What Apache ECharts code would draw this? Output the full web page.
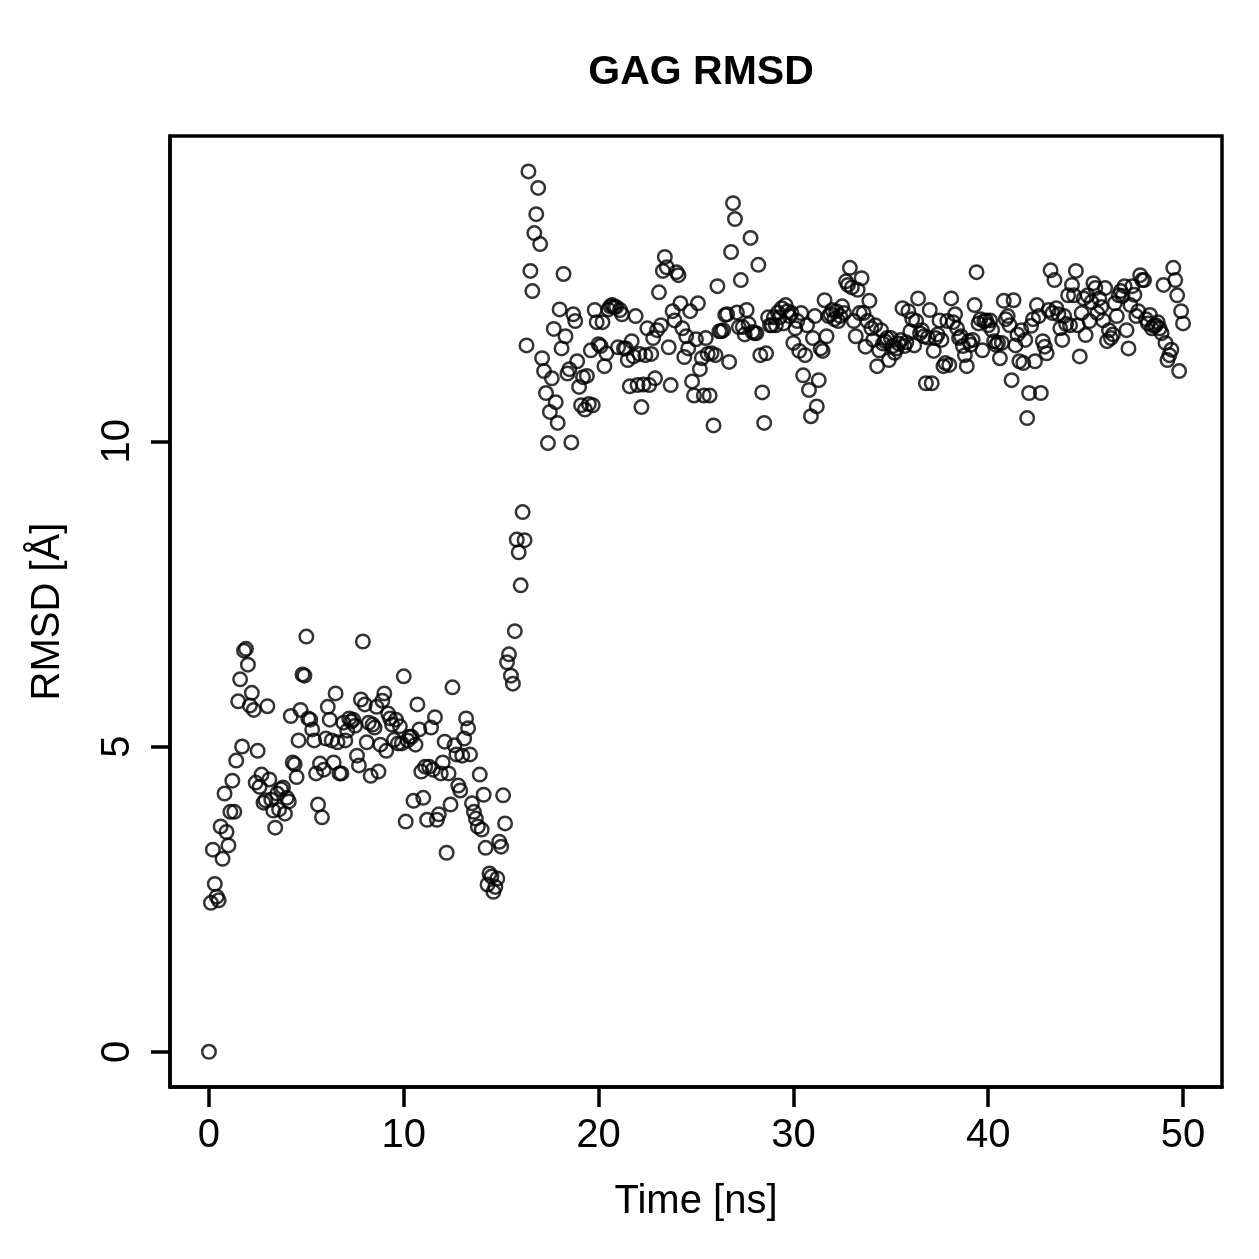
<!DOCTYPE html>
<html>
<head>
<meta charset="utf-8">
<title>GAG RMSD</title>
<script src="https://cdn.jsdelivr.net/npm/echarts@6/dist/echarts.min.js"></script>
<style>
  html, body { margin: 0; padding: 0; background: #fff; }
  #chart { width: 1259px; height: 1259px; }
</style>
</head>
<body>
<div id="chart"></div>
<script>
// one frame every 0.1 ns, starting at 0 ns
const timeStep = 0.1;

// RMSD [Å], 0.0 - 16.2 ns
const rmsdEarly = [
  0.00, 2.44, 3.31, 2.75, 2.54, 2.48, 3.69, 3.16, 4.23, 3.60,
  3.38, 3.93, 4.44, 3.93, 4.77, 5.74, 6.10, 5.00, 6.57, 6.60,
  6.34, 5.67, 5.88, 5.60, 4.41, 4.93, 4.34, 4.54, 4.08, 4.12, 5.66,
  4.46, 4.13, 3.95, 3.67, 4.23, 3.97, 4.30, 4.33, 3.90, 4.16, 4.10,
  5.50, 4.74, 4.71, 4.50, 5.10, 5.60, 6.18, 6.16, 6.80, 5.46, 5.44,
  5.28, 5.10, 4.56, 4.05, 4.72, 3.84, 4.62, 5.13, 5.65, 5.44,
  5.10, 4.74, 5.87, 5.07, 4.56, 4.56, 5.39, 5.10, 5.26, 5.46, 5.41,
  5.44, 5.34, 4.85, 4.69, 5.77, 6.72, 5.69, 5.07, 5.39, 4.52,
  5.36, 5.31, 5.65, 4.59, 5.03, 5.75, 5.87, 4.93, 5.54, 5.46, 5.36,
  5.11, 5.44, 5.05, 5.33, 5.05, 6.15, 3.77, 5.10, 5.16, 5.16,
  4.11, 5.03, 5.69, 5.28, 4.59, 4.16, 4.67, 3.80, 4.67, 5.31,
  4.62, 5.48, 3.80, 3.89, 4.56, 4.74, 5.08, 3.26, 4.56, 4.05,
  5.97, 5.02, 4.87, 4.36, 4.28, 4.85, 5.13, 5.46, 5.30, 4.87,
  4.07, 3.93, 3.82, 3.69, 4.54, 3.64, 4.21, 3.34, 2.74, 2.92, 2.87,
  2.62, 2.70, 2.84, 3.44, 3.36, 4.20, 3.74, 6.38, 6.51, 6.16,
  6.03, 6.89, 8.39, 8.18, 7.64, 8.84, 8.38
];

// 16.3 - 29.3 ns
const rmsdJump = [
  11.57, 14.42, 12.79, 12.46, 13.41, 13.72, 14.15, 13.23, 11.36, 11.15,
  10.79, 9.97, 10.48, 11.03, 11.84, 10.64, 10.30, 12.16, 11.52, 12.74,
  11.72, 11.11, 11.18, 9.98, 12.08, 11.97, 11.31, 10.89, 10.59, 11.05,
  10.52, 11.07, 10.61, 11.49, 10.59, 12.15, 11.95, 11.59, 11.56, 11.95,
  11.23, 11.44, 12.16, 12.21, 12.23, 12.20, 12.20, 11.54, 12.15, 12.08,
  11.52, 11.52, 11.33, 10.90, 11.64, 11.39, 12.05, 10.92, 11.43, 10.56,
  10.93, 11.41, 11.85, 10.92, 11.43, 11.69, 11.03, 11.82, 12.44, 11.90,
  12.79, 13.02, 12.85, 11.54, 10.92, 12.13, 11.98, 12.77, 12.72, 12.26,
  11.85, 11.38, 11.72, 11.52, 12.13, 10.98, 10.75, 11.67, 12.26, 11.18,
  11.36, 10.75, 11.69, 11.43, 10.75, 11.44, 10.26, 11.41, 12.54, 11.80,
  11.80, 11.82, 12.07, 12.08, 11.30, 13.10, 13.90, 13.64, 12.11, 11.87,
  12.64, 11.87, 11.75, 12.15, 11.92, 13.33, 11.79, 11.77, 11.77, 12.89,
  11.41, 10.80, 10.30, 11.44, 12.03, 11.90, 11.90, 12.03, 11.90, 12.11, 12.03
];

// 29.4 - 37.9 ns
const rmsdMid = [
  12.18, 11.93, 12.23, 12.13, 12.05, 12.10, 11.61, 11.85, 11.97, 11.48,
  12.10, 11.08, 11.41, 11.90, 10.84, 10.41, 11.69, 12.05, 10.57, 11.00,
  11.52, 11.48, 12.31, 11.72, 12.05, 12.08, 12.15, 12.00, 12.13, 11.97,
  12.05, 12.21, 12.10, 12.62, 12.56, 12.84, 12.52, 11.97, 11.72, 12.48,
  12.10, 12.67, 12.10, 11.55, 11.97, 12.30, 11.85, 11.66, 11.90, 11.23,
  11.49, 11.82, 11.60, 11.64, 11.69, 11.33, 11.69, 11.56, 11.45, 11.52,
  11.60, 11.66, 12.18, 11.56, 11.62, 12.13, 11.80, 12.00, 11.57, 11.97,
  12.34, 11.77, 11.82, 11.72, 10.95, 11.70, 12.15, 10.95, 11.48, 11.69,
  11.75, 11.98, 11.66, 11.23, 11.28, 11.97
];

// 38.0 - 50.0 ns
const rmsdLate = [
  11.25, 12.34, 11.95, 12.08, 11.85, 11.69, 11.72, 11.56, 11.41, 11.23,
  11.64, 11.58, 11.66, 12.23, 12.77, 11.93, 12.00, 11.49, 11.97, 11.98,
  11.90, 11.98, 11.82, 11.64, 11.58, 11.61, 11.36, 11.61, 12.30, 12.00,
  12.05, 11.90, 11.00, 12.31, 11.57, 11.75, 11.31, 11.82, 11.28, 11.66,
  10.38, 10.79, 11.89, 12.00, 11.31, 12.23, 12.05, 10.79, 11.64, 11.55,
  11.44, 12.15, 12.80, 12.10, 12.64, 12.18, 12.08, 11.85, 11.66, 12.05,
  11.92, 12.39, 11.90, 12.56, 12.39, 12.79, 11.90, 11.39, 12.10, 12.34,
  11.74, 12.39, 11.97, 12.28, 12.59, 12.51, 12.10, 12.34, 12.20, 11.98,
  12.51, 11.64, 11.82, 11.69, 11.75, 12.26, 12.05, 12.39, 12.46, 12.38,
  12.54, 11.82, 11.52, 12.23, 12.54, 12.40, 12.05, 12.13, 12.72, 12.64,
  12.64, 12.00, 11.93, 12.07, 11.85, 11.89, 11.90, 11.95, 11.85, 11.77,
  12.56, 11.61, 11.33, 11.41, 11.50, 12.84, 12.64, 12.39, 11.15, 12.13,
  11.93
];

const xTicks = [0, 10, 20, 30, 40, 50];
const yTicks = [0, 5, 10];

const rmsd = rmsdEarly.concat(rmsdJump, rmsdMid, rmsdLate);
const points = rmsd.map((v, i) => [+(i * timeStep).toFixed(1), v]);

const font = "'Liberation Sans', Arial, Helvetica, sans-serif";
const chart = echarts.init(document.getElementById("chart"), null, { renderer: "canvas" });

chart.setOption({
  backgroundColor: "#fff",
  animation: false,
  title: {
    text: "GAG RMSD",
    left: 696,
    textAlign: "center",
    top: 47,
    textStyle: { fontFamily: font, fontWeight: "bold", fontSize: 41, color: "#000" },
  },
  grid: {
    left: 170,
    right: 37,
    top: 136,
    bottom: 172,
    show: true,
    borderColor: "#000",
    borderWidth: 3.5,
    backgroundColor: "transparent",
  },
  xAxis: {
    type: "value",
    min: -2,
    max: 52,
    name: "Time [ns]",
    nameLocation: "middle",
    nameGap: 95,
    nameTextStyle: { fontFamily: font, fontSize: 40, color: "#000" },
    axisLine: { show: true, onZero: false, lineStyle: { color: "#000", width: 3.5 } },
    splitLine: { show: false },
    axisTick: {
      show: true,
      length: 20,
      customValues: xTicks,
      lineStyle: { color: "#000", width: 3.5 },
    },
    axisLabel: {
      customValues: xTicks,
      margin: 29,
      fontFamily: font,
      fontSize: 40,
      color: "#000",
    },
  },
  yAxis: {
    type: "value",
    min: -0.577,
    max: 15.0,
    name: "RMSD [Å]",
    nameLocation: "middle",
    nameGap: 102,
    nameRotate: 90,
    nameTextStyle: { fontFamily: font, fontSize: 40, color: "#000" },
    axisLine: { show: true, onZero: false, lineStyle: { color: "#000", width: 3.5 } },
    splitLine: { show: false },
    axisTick: {
      show: true,
      length: 19,
      customValues: yTicks,
      lineStyle: { color: "#000", width: 3.5 },
    },
    axisLabel: {
      customValues: yTicks,
      rotate: 90,
      margin: 32,
      fontFamily: font,
      fontSize: 40,
      color: "#000",
    },
  },
  series: [
    {
      type: "scatter",
      data: points,
      symbol: "circle",
      symbolSize: 13.5,
      itemStyle: {
        color: "rgba(0,0,0,0)",
        borderColor: "#000",
        borderWidth: 2.5,
      },
      emphasis: { disabled: true },
    },
  ],
});
</script>
</body>
</html>
